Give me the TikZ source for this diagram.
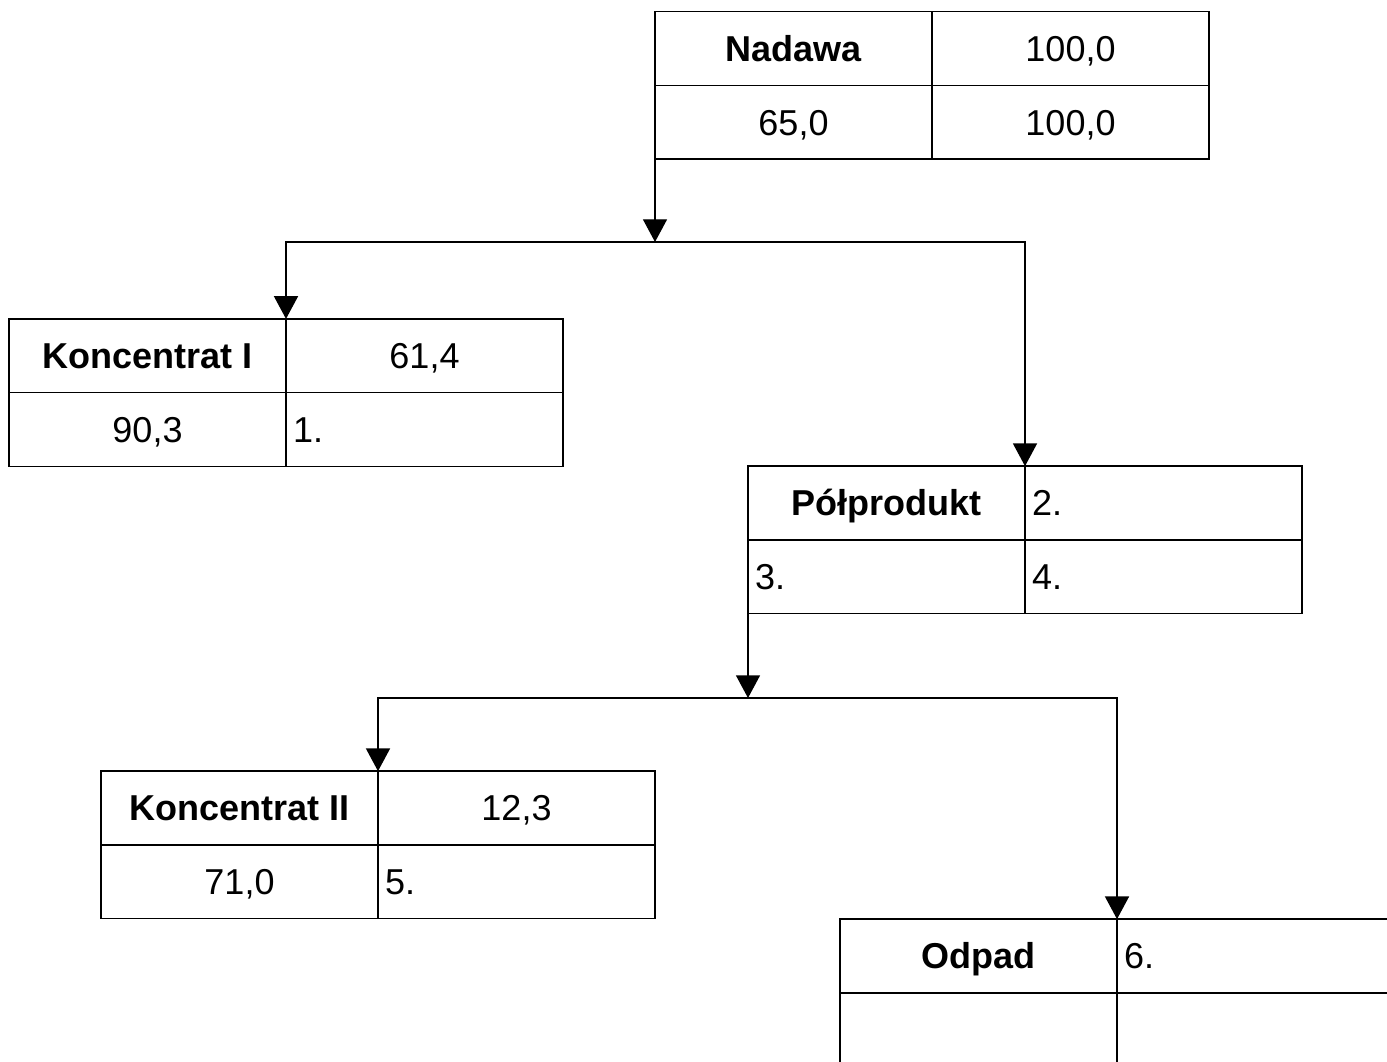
\documentclass[tikz,border=0pt]{standalone}
\usepackage{fontspec}
\setsansfont{Liberation Sans}
\usetikzlibrary{arrows.meta, positioning}

\begin{document}
\begin{tikzpicture}[x=0.75pt, y=-0.75pt, node distance = 0pt]
\tikzstyle{cell} = [rectangle, draw, line width=1pt, outer sep=0pt, inner sep=0pt,
    minimum width=207.75pt, minimum height=55.3pt, text height=19.4pt, text depth=0pt,
    font=\fontsize{27}{32}\selectfont\sffamily]
\tikzstyle{cellhead} = [cell, font=\fontsize{27}{32}\selectfont\sffamily\bfseries]
\tikzstyle{cellnum} = [cell, text width=197.25pt, inner xsep=5.25pt, align=left]
\tikzstyle{line} = [draw, line width=1pt, -{Triangle[length=17pt, width=18pt]}]
    \clip (0,0) rectangle (1387,1062);

    % Place nodes
    \node [cellhead] (nadawa) at (793.5,48.5) {Nadawa};
    \node [cell, right=of nadawa] (nadawaMasa) {100,0};
    \node [cell, below=of nadawa] (nadawaZaw) {65,0};
    \node [cell, right=of nadawaZaw] (nadawaUzysk) {100,0};

    \node [cellhead] (konc1) at (147.5,355.75) {Koncentrat I};
    \node [cell, right=of konc1] (konc1Masa) {61,4};
    \node [cell, below=of konc1] (konc1Zaw) {90,3};
    \node [cellnum, right=of konc1Zaw] (konc1Uzysk) {1.};

    \node [cellhead] (polprod) at (886.5,503) {Półprodukt};
    \node [cellnum, right=of polprod] (polprodMasa) {2.};
    \node [cellnum, below=of polprod] (polprodZaw) {3.};
    \node [cellnum, right=of polprodZaw] (polprodUzysk) {4.};

    \node [cellhead] (konc2) at (239.5,808) {Koncentrat II};
    \node [cell, right=of konc2] (konc2Masa) {12,3};
    \node [cell, below=of konc2] (konc2Zaw) {71,0};
    \node [cellnum, right=of konc2Zaw] (konc2Uzysk) {5.};

    \node [cellhead] (odpad) at (978.5,956) {Odpad};
    \node [cellnum, right=of odpad] (odpadMasa) {6.};
    \node [cell, below=of odpad] (odpadZaw) {};
    \node [cell, right=of odpadZaw] (odpadUzysk) {};

    \coordinate (split1) at (655,242);
    \coordinate (split2) at (748,698);

%paths
    \path [line] (nadawaZaw.south west) -- (split1);
    \path [line] (split1) -| (konc1.north east);
    \path [line] (split1) -| (polprod.north east);
    \path [line] (polprodZaw.south west) -- (split2);
    \path [line] (split2) -| (konc2.north east);
    \path [line] (split2) -| (odpad.north east);

\end{tikzpicture}
\end{document}
